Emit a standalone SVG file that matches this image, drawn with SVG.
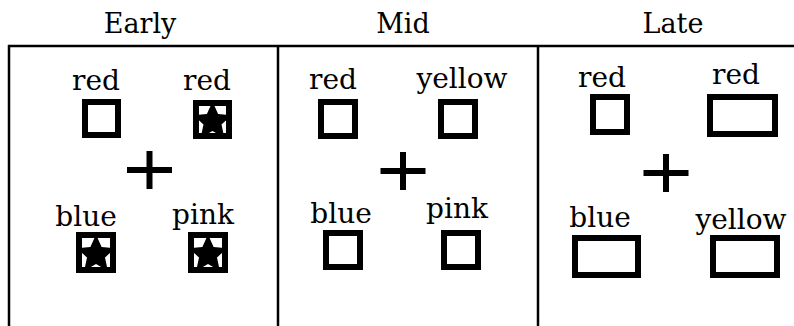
<svg xmlns="http://www.w3.org/2000/svg" width="794" height="326" viewBox="0 0 794 326">
<style>
.t{font-family:"DejaVu Serif","Liberation Serif",serif;font-size:27px;fill:#000;text-anchor:middle}
.l{font-family:"DejaVu Serif","Liberation Serif",serif;font-size:28px;fill:#000;text-anchor:middle}
.b{fill:#fff;stroke:#000;stroke-width:6}
.o{fill:none;stroke:#000;stroke-width:6}
.f{fill:none;stroke:#000;stroke-width:2.5}
</style>
<defs>
<path id="star" d="M0,-20 L5.6,-7.6 L19.1,-6.2 L9,3 L11.8,16.2 L0,9.5 L-11.8,16.2 L-9,3 L-19.1,-6.2 L-5.6,-7.6 Z" fill="#000"/>
<g id="plus"><rect x="-22.5" y="-3" width="45" height="6"/><rect x="-3" y="-19" width="6" height="38"/></g>
</defs>
<g id="frame">
<path class="f" d="M8,46 H794 M9,45 V326 M278,45 V326 M538,45 V326"/>
</g>
<g id="early">
<text class="t" x="140" y="33">Early</text>
<g id="early-red1"><text class="l" x="96" y="90">red</text><rect class="b" x="85" y="102" width="33" height="33"/></g>
<g id="early-red2"><text class="l" x="207" y="90">red</text><rect class="b" x="196" y="103" width="33" height="33"/><use href="#star" x="212.5" y="121.5"/><rect class="o" x="196" y="103" width="33" height="33"/></g>
<use href="#plus" x="149.5" y="170"/>
<g id="early-blue"><text class="l" x="86" y="226">blue</text><rect class="b" x="79" y="235" width="34" height="35"/><use href="#star" x="96" y="254.5"/><rect class="o" x="79" y="235" width="34" height="35"/></g>
<g id="early-pink"><text class="l" x="203" y="224">pink</text><rect class="b" x="191" y="235" width="34" height="35"/><use href="#star" x="208" y="254.5"/><rect class="o" x="191" y="235" width="34" height="35"/></g>
</g>
<g id="mid">
<text class="t" x="403" y="33">Mid</text>
<g id="mid-red"><text class="l" x="333" y="89">red</text><rect class="b" x="321" y="102" width="34" height="34"/></g>
<g id="mid-yellow"><text class="l" x="462" y="88">yellow</text><rect class="b" x="441" y="102" width="34" height="34"/></g>
<use href="#plus" x="403" y="171"/>
<g id="mid-blue"><text class="l" x="341" y="223">blue</text><rect class="b" x="326" y="233" width="34" height="34"/></g>
<g id="mid-pink"><text class="l" x="457" y="218">pink</text><rect class="b" x="444" y="233" width="34" height="34"/></g>
</g>
<g id="late">
<text class="t" x="673" y="33">Late</text>
<g id="late-red1"><text class="l" x="602" y="87">red</text><rect class="b" x="593" y="97" width="34" height="35"/></g>
<g id="late-red2"><text class="l" x="736" y="84">red</text><rect class="b" x="710" y="97" width="65" height="37"/></g>
<use href="#plus" x="666" y="173"/>
<g id="late-blue"><text class="l" x="600" y="227">blue</text><rect class="b" x="575" y="238" width="63" height="37"/></g>
<g id="late-yellow"><text class="l" x="741" y="229">yellow</text><rect class="b" x="713" y="238" width="64" height="37"/></g>
</g>
</svg>
